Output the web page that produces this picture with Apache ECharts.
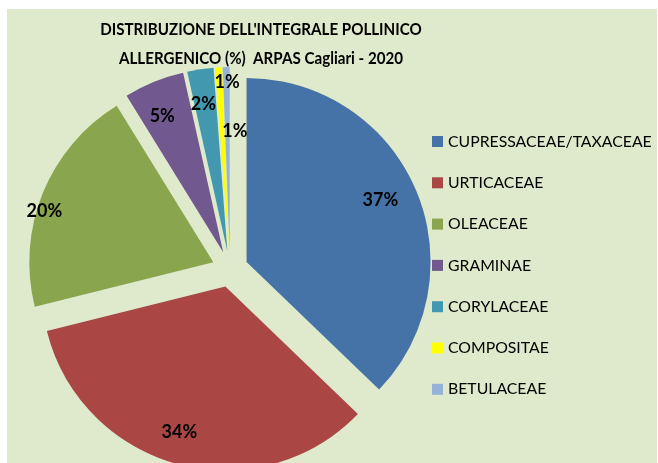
<!DOCTYPE html>
<html>
<head>
<meta charset="utf-8">
<script src="https://cdn.jsdelivr.net/npm/echarts@6/dist/echarts.min.js"></script>
<style>
html,body{margin:0;padding:0;background:#fff;}
#c{width:658px;height:463px;}
</style>
</head>
<body>
<div id="c"></div>
<script>
// ---- data ----
const categories = ['CUPRESSACEAE/TAXACEAE','URTICACEAE','OLEACEAE','GRAMINAE','CORYLACEAE','COMPOSITAE','BETULACEAE'];
const values = [37.2, 33.9, 20.1, 5.3, 2.3, 0.6, 0.6];
const titleLines = ["DISTRIBUZIONE DELL'INTEGRALE POLLINICO", "ALLERGENICO (%)  ARPAS Cagliari - 2020"];

// ---- style ----
const colors = ['#4572A7','#AA4643','#89A54E','#71588F','#4198AF','#FFFF00','#95B3D7'];
const labelRadius = [0.80, 0.83, 0.96, 0.81, 0.81, 0.92, 0.65];
const labelAngleShift = [-1.6, 2.6, -5.2, -2.0, -0.8, 2.6, 3.6]; // degrees, clockwise
const explode = 18;
const pieCenter = [230, 269];
const pieRadius = 184;
const FONT = 'Lato, "Open Sans", sans-serif';

const chart = echarts.init(document.getElementById('c'), null, {renderer: 'canvas'});

// mid angles of each slice derived from the values (clockwise from 12 o'clock)
const total = values.reduce((a, b) => a + b, 0);
const midAngles = [];
(function () {
  let acc = 0;
  values.forEach(v => {
    const s = acc / total * 2 * Math.PI;
    acc += v;
    const e = acc / total * 2 * Math.PI;
    midAngles.push(-Math.PI / 2 + (s + e) / 2);
  });
})();

function labelPos(params) {
  const i = params.dataIndex;
  const mid = midAngles[i];
  const vx = pieCenter[0] + explode * Math.cos(mid);
  const vy = pieCenter[1] + explode * Math.sin(mid);
  const a = mid + labelAngleShift[i] * Math.PI / 180;
  const rr = labelRadius[i] * pieRadius;
  return {
    x: vx + rr * Math.cos(a),
    y: vy + rr * Math.sin(a),
    align: 'center',
    verticalAlign: 'middle'
  };
}

chart.setOption({
  animation: false,
  backgroundColor: '#ffffff',
  color: colors,
  graphic: [
    {type: 'rect', z: -10, silent: true, shape: {x: 7, y: 9, width: 650, height: 454}, style: {fill: '#DFE9CB'}},
    {type: 'text', z: 10, silent: true, x: 261, y: 15, scaleX: 0.865, scaleY: 1,
     style: {text: titleLines.join('\n'), x: 0, y: 0, textAlign: 'center', textVerticalAlign: 'top', font: 'bold 17.5px ' + FONT, lineHeight: 29, fill: '#000'}}
  ],
  legend: {
    orient: 'vertical',
    left: 432,
    top: 132.5,
    padding: 0,
    icon: 'rect',
    itemWidth: 11,
    itemHeight: 11,
    itemGap: 23.3,
    selectedMode: false,
    data: categories,
    textStyle: {fontFamily: FONT, fontSize: 15.8, lineHeight: 18, color: '#000', padding: [0,0,0,0]}
  },
  series: [{
    type: 'pie',
    center: pieCenter,
    radius: pieRadius,
    startAngle: 90,
    clockwise: true,
    selectedMode: 'multiple',
    selectedOffset: explode,
    avoidLabelOverlap: false,
    emphasis: {disabled: true},
    label: {show: false},
    labelLine: {show: false},
    data: categories.map((c, i) => ({name: c, value: values[i], selected: true}))
  }, {
    // label carrier: same data, invisible slices
    type: 'pie',
    center: pieCenter,
    radius: pieRadius,
    startAngle: 90,
    clockwise: true,
    silent: true,
    legendHoverLink: false,
    avoidLabelOverlap: false,
    percentPrecision: 0,
    emphasis: {disabled: true},
    itemStyle: {color: 'rgba(0,0,0,0)'},
    label: {show: true, position: 'inside', formatter: '{d}%', fontFamily: FONT, fontWeight: 'bold', fontSize: 18, color: '#000'},
    labelLine: {show: false},
    labelLayout: labelPos,
    data: categories.map((c, i) => ({name: c, value: values[i]}))
  }]
});
</script>
</body>
</html>
